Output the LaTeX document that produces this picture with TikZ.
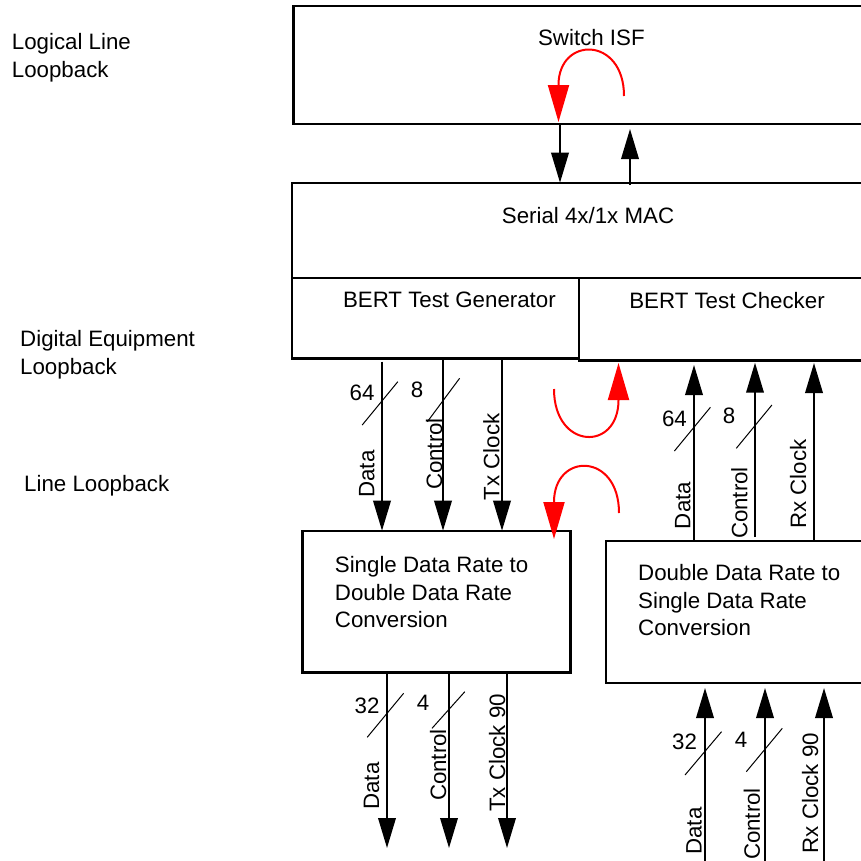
\documentclass[tikz,border=0pt]{standalone}
\usepackage{fontspec}
\setmainfont{Liberation Sans}
\usetikzlibrary{arrows.meta}
\begin{document}
\begin{tikzpicture}[x=1pt,y=-1pt,
  box/.style={draw, line width=2.2pt, inner sep=0pt, outer sep=0pt, anchor=north west},
  lbl/.style={font=\fontsize{22.3}{27.5}\selectfont, inner sep=0pt},
  hl/.style={lbl, anchor=base west},
  hc/.style={lbl, anchor=base},
  vlbl/.style={lbl, rotate=90, anchor=base},
  sig/.style={line width=2pt, -{Triangle[length=30pt,width=17.5pt]}},
  loopar/.style={red, line width=2pt, -{Triangle[length=37pt,width=21pt]}},
  bus/.style={line width=1pt}]
\useasboundingbox (0,0) rectangle (861,860);
\clip (0,0) rectangle (861,860);

% boxes (open to the right edge)
\node[box, minimum width=606.5pt, minimum height=118pt] (isf) at (293.5,6) {};
\node[box, minimum width=608pt, minimum height=95pt] (mac) at (292,183) {};
\node[box, minimum width=287pt, minimum height=80.5pt] (gen) at (292,278) {};
\node[box, minimum width=321pt, minimum height=82.5pt] (chk) at (579,278) {};
\node[box, minimum width=268pt, minimum height=141.5pt] (sdr) at (302.5,531) {};
\node[box, minimum width=294pt, minimum height=142pt] (ddr) at (606,541) {};

% box texts
\node[hc] (tisf) at (591.4,45) {Switch ISF};
\node[hc] (tmac) at (588,223.3) {Serial 4x/1x MAC};
\node[hc] (tgen) at (449.4,307.3) {BERT Test Generator};
\node[hc] (tchk) at (727,308.3) {BERT Test Checker};
\node[hl] (tsdr1) at (334.7,572.7) {Single Data Rate to};
\node[hl] (tsdr2) at (334.7,600.2) {Double Data Rate};
\node[hl] (tsdr3) at (334.7,627.5) {Conversion};
\node[hl] (tddr1) at (638,580.5) {Double Data Rate to};
\node[hl] (tddr2) at (638,608) {Single Data Rate};
\node[hl] (tddr3) at (638,635.5) {Conversion};

% side labels
\node[hl] (ll1) at (11.7,49.3) {Logical Line};
\node[hl] (ll2) at (11.7,77.3) {Loopback};
\node[hl] (de1) at (20,346.7) {Digital Equipment};
\node[hl] (de2) at (20,374.5) {Loopback};
\node[hl] (lb) at (24,491) {Line Loopback};

% ISF <-> MAC
\coordinate (d1s) at (560,124); \coordinate (d1e) at (560,182.7);
\coordinate (u1s) at (630,185); \coordinate (u1e) at (630,129);
\draw[sig] (d1s) -- (d1e);
\draw[sig] (u1s) -- (u1e);

% generator -> SDR
\coordinate (gd1) at (382,361.7); \coordinate (sd1) at (382,530.7);
\coordinate (gd2) at (443,358.5); \coordinate (sd2) at (443,530.7);
\coordinate (gd3) at (502,358.5); \coordinate (sd3) at (502,530.7);
\draw[sig] (gd1) -- (sd1);
\draw[sig] (gd2) -- (sd2);
\draw[sig] (gd3) -- (sd3);
\draw[bus] (362.2,425) -- (397.8,381.7);
\draw[bus] (427.4,421.7) -- (459.6,378.3);
\node[hc] (n64a) at (362,400) {64};
\node[hc] (n8a) at (417,397.5) {8};
\node[vlbl] (va1) at (374.4,474) {Data};
\node[vlbl] (va2) at (442,454) {Control};
\node[vlbl] (va3) at (499.3,456.7) {Tx Clock};

% DDR -> checker
\coordinate (du1) at (694,541); \coordinate (cu1) at (694,365);
\coordinate (du2) at (755,537); \coordinate (cu2) at (755,362.7);
\coordinate (du3) at (814,541); \coordinate (cu3) at (814,363);
\draw[sig] (du1) -- (cu1);
\draw[sig] (du2) -- (cu2);
\draw[sig] (du3) -- (cu3);
\draw[bus] (674.4,451) -- (710.4,407.3);
\draw[bus] (736.3,448.3) -- (771.9,405);
\node[hc] (n64b) at (674.4,426) {64};
\node[hc] (n8b) at (729,423.3) {8};
\node[vlbl] (vb1) at (690.4,505.5) {Data};
\node[vlbl] (vb2) at (747.4,503) {Control};
\node[vlbl] (vb3) at (806,484) {Rx Clock};

% SDR outputs
\coordinate (so1) at (387,672.5); \coordinate (se1) at (387,848);
\coordinate (so2) at (449,672.5); \coordinate (se2) at (449,848);
\coordinate (so3) at (507,672.5); \coordinate (se3) at (507,848);
\draw[sig] (so1) -- (se1);
\draw[sig] (so2) -- (se2);
\draw[sig] (so3) -- (se3);
\draw[bus] (367.2,737.3) -- (403.6,693.3);
\draw[bus] (432,728.3) -- (464.8,691.7);
\node[hc] (n32a) at (367,713.3) {32};
\node[hc] (n4a) at (423,710.7) {4};
\node[vlbl] (vc1) at (379,786) {Data};
\node[vlbl] (vc2) at (446,765) {Control};
\node[vlbl] (vc3) at (505,753) {Tx Clock 90};

% DDR inputs
\coordinate (di1) at (705,870); \coordinate (dt1) at (705,688);
\coordinate (di2) at (765,870); \coordinate (dt2) at (765,688);
\coordinate (di3) at (824,870); \coordinate (dt3) at (824,688);
\draw[sig] (di1) -- (dt1);
\draw[sig] (di2) -- (dt2);
\draw[sig] (di3) -- (dt3);
\draw[bus] (685,775) -- (721.5,731.7);
\draw[bus] (746.3,771.7) -- (782.3,728.3);
\node[hc] (n32b) at (684.6,749.3) {32};
\node[hc] (n4b) at (741,747.3) {4};
\node[vlbl] (vd1) at (701.5,831) {Data};
\node[vlbl] (vd2) at (759.8,824) {Control};
\node[vlbl] (vd3) at (818,793) {Rx Clock 90};

% red loopback arrows
\coordinate (r1s) at (624,96); \coordinate (r1m) at (558.5,85); \coordinate (r1e) at (558.5,122);
\draw[loopar] (r1s) .. controls (624,36) and (558.5,36) .. (r1m) -- (r1e);
\coordinate (r2s) at (554,389); \coordinate (r2m) at (618.5,400); \coordinate (r2e) at (618.5,363);
\draw[loopar] (r2s) .. controls (554,450) and (618.5,452) .. (r2m) -- (r2e);
\coordinate (r3s) at (619,513); \coordinate (r3m) at (554,502); \coordinate (r3e) at (554,539);
\draw[loopar] (r3s) .. controls (619,452) and (554,452) .. (r3m) -- (r3e);
\end{tikzpicture}
\end{document}
